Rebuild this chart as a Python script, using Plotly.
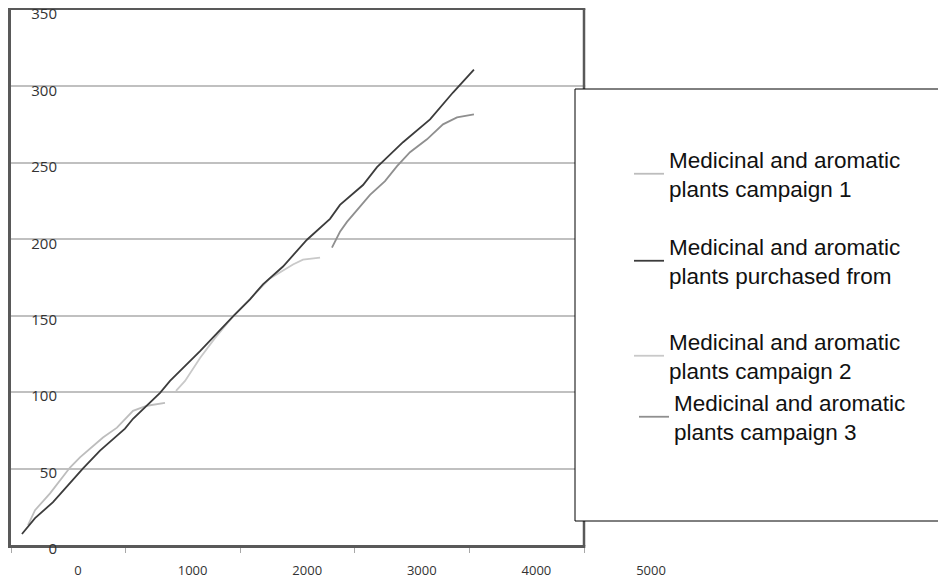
import plotly.graph_objects as go

# ---- data ----
purchased_x = [-489, -375, -218, 44, 192, 410, 480, 716, 803, 890, 1065, 1353, 1501, 1614,
               1789, 1998, 2199, 2286, 2487, 2609, 2836, 3072, 3272, 3455]
purchased_y = [7.2, 17.6, 28.0, 50.1, 61.8, 76.1, 82.6, 99.5, 107.3, 113.9, 126.9, 149.6, 160.7,
               170.5, 182.2, 199.7, 213.4, 222.5, 235.5, 247.2, 263.5, 278.4, 296.0, 311.0]

camp1_x = [-436, -375, -244, -70, 17, 218, 340, 480, 602, 759]
camp1_y = [13.0, 22.8, 33.8, 50.7, 57.3, 70.3, 76.8, 87.8, 91.1, 93.0]

camp2_x = [855, 934, 1065, 1195, 1353, 1501, 1675, 1876, 1963, 2112]
camp2_y = [100.8, 107.3, 122.3, 135.3, 149.6, 161.3, 174.4, 183.5, 186.7, 188.0]

camp3_x = [2216, 2286, 2347, 2487, 2548, 2679, 2784, 2897, 3045, 3185, 3307, 3455]
camp3_y = [194.5, 204.9, 211.4, 223.8, 229.0, 238.1, 247.9, 257.0, 265.4, 275.2, 279.7, 281.7]

x_tick_labels = [0, 1000, 2000, 3000, 4000, 5000]
y_tick_labels = [0, 50, 100, 150, 200, 250, 300, 350]

names = [
    "Medicinal and aromatic<br>plants campaign 1",
    "Medicinal and aromatic<br>plants purchased from",
    "Medicinal and aromatic<br>plants campaign 2",
    "Medicinal and aromatic<br>plants campaign 3",
]

# page body has an 8px margin; the figure is sized to fit the window
OFF = 8
W, H = 946 - OFF, 581 - OFF
def px(v):
    return (v - OFF) / W
def py(v):
    return min(1.0, max(0.0, 1 - (v - OFF) / H))

fig = go.Figure()
fig.add_trace(go.Scatter(x=camp1_x, y=camp1_y, mode="lines", name=names[0],
                         line=dict(color="#bdbdbd", width=1.8), legend="legend"))
fig.add_trace(go.Scatter(x=camp2_x, y=camp2_y, mode="lines", name=names[2],
                         line=dict(color="#c9c9c9", width=1.8), legend="legend3"))
fig.add_trace(go.Scatter(x=camp3_x, y=camp3_y, mode="lines", name=names[3],
                         line=dict(color="#8f8f8f", width=1.8), legend="legend4"))
fig.add_trace(go.Scatter(x=purchased_x, y=purchased_y, mode="lines", name=names[1],
                         line=dict(color="#3c3c3c", width=1.8), legend="legend2"))

# axis geometry: the x axis runs on past the frame so that the "5000" label shows
left_px, frame_right_px, axis_right_px = 11, 584, 700
top_px, bottom_px = 10, 545
unit = (frame_right_px - left_px) / 5000.0
xmin = -(78 - left_px) / unit
xmax = xmin + (axis_right_px - left_px) / unit

frame = "#595959"
fig.update_layout(
    width=W, height=H,
    margin=dict(l=0, r=0, t=0, b=0),
    paper_bgcolor="white", plot_bgcolor="white",
    xaxis=dict(domain=[px(left_px), px(axis_right_px)], range=[xmin, xmax],
               tickmode="array", tickvals=x_tick_labels,
               ticktext=[str(v) for v in x_tick_labels], ticks="",
               tickfont=dict(family="Open Sans", size=13, color="#333333"),
               ticklabelstandoff=12, ticklabeloverflow="allow",
               minor=dict(ticks="outside", ticklen=5, tickwidth=1, tickcolor="#a8a8a8",
                          tickvals=[xmin + 0.5 + 1000 * k for k in range(6)],
                          showgrid=False),
               showgrid=False, zeroline=False, showline=True, mirror=True,
               linecolor=frame, linewidth=2.5, automargin=False),
    yaxis=dict(domain=[py(bottom_px), py(top_px)], range=[0, 350],
               tickmode="array", tickvals=y_tick_labels, showticklabels=False,
               ticks="outside", ticklen=8, tickwidth=1, tickcolor="#a8a8a8",
               showgrid=True, gridcolor="#c0c0c0", gridwidth=1.5,
               zeroline=False, showline=True, mirror=False,
               linecolor=frame, linewidth=2.5, automargin=False),
    # label-only y axis, labels sit inside the frame
    yaxis2=dict(overlaying="y", anchor="free", position=px(57), side="left",
                range=[0, 350], tickmode="array", tickvals=y_tick_labels,
                ticktext=[str(v) for v in y_tick_labels],
                ticks="", showgrid=False, zeroline=False, showline=False,
                tickfont=dict(family="Open Sans", size=15, color="#333333"),
                ticklabelshift=4, ticklabeloverflow="allow", automargin=False),
    shapes=[
        # hide the axis/grid past the frame's right edge
        dict(type="rect", xref="paper", yref="paper",
             x0=px(frame_right_px + 1.3), x1=px(axis_right_px + 5), y0=py(89), y1=1,
             line=dict(width=0), fillcolor="white", layer="above"),
        dict(type="rect", xref="paper", yref="paper",
             x0=px(frame_right_px + 1.3), x1=px(axis_right_px + 5),
             y0=py(bottom_px + 3), y1=py(515),
             line=dict(width=0), fillcolor="white", layer="above"),
        # right side of the frame
        dict(type="line", xref="paper", yref="paper",
             x0=px(frame_right_px), x1=px(frame_right_px),
             y0=py(bottom_px + 1.25), y1=py(top_px - 1.25),
             line=dict(color=frame, width=2.5), layer="above"),
        # legend box
        dict(type="rect", xref="paper", yref="paper",
             x0=px(575), x1=px(1000), y0=py(521), y1=py(89),
             line=dict(color="black", width=1), fillcolor="white", layer="above"),
    ],
)

legend_common = dict(bgcolor="rgba(0,0,0,0)", borderwidth=0,
                     font=dict(family="Liberation Sans, Arial", size=22.5, color="#111111"),
                     xanchor="left", yanchor="top", itemclick=False)
fig.update_layout(
    legend=dict(x=px(629), y=py(138), valign="middle", **legend_common),
    legend2=dict(x=px(629), y=py(225), valign="middle", **legend_common),
    legend3=dict(x=px(629), y=py(320), valign="middle", **legend_common),
    legend4=dict(x=px(634), y=py(381), valign="middle", **legend_common),
)

# invisible copy of a series binding the label-only y axis
fig.add_trace(go.Scatter(x=purchased_x, y=purchased_y, yaxis="y2",
                         mode="lines", line=dict(color="rgba(0,0,0,0)", width=0),
                         showlegend=False, hoverinfo="skip"))

fig.write_html("out.html")
